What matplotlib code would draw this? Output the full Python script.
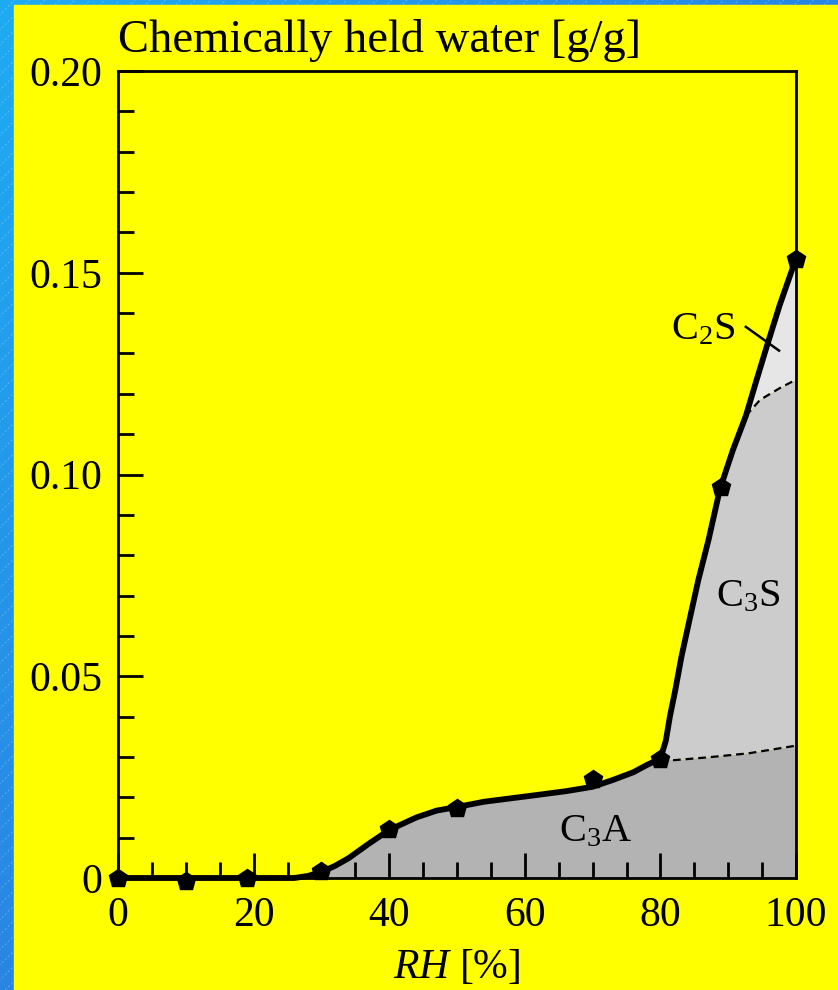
import numpy as np
import matplotlib.pyplot as plt
from matplotlib.ticker import MultipleLocator
from matplotlib.patches import Rectangle

plt.rcParams['font.family'] = 'Liberation Serif'
plt.rcParams['mathtext.fontset'] = 'custom'
plt.rcParams['mathtext.rm'] = 'Liberation Serif'
plt.rcParams['mathtext.it'] = 'Liberation Serif:italic'

# measured points (RH %, chemically held water g/g)
rh_pts = [0, 10, 19, 30, 40, 50, 70, 80, 89, 100]
w_pts = [0.0, -0.0008, 0.0, 0.0017, 0.0122, 0.0173, 0.0246, 0.0296, 0.0970, 0.1535]

# smooth total curve drawn through the points
curve_rh = np.array([0, 26, 28, 30, 32, 34, 37, 40, 44, 47, 50, 54, 61, 66, 70, 73, 76, 78,
                     80, 80.8, 81.4, 82.2, 83.1, 84.4, 85.6, 87.1, 88.8, 90.7, 92.6, 94.2,
                     95.7, 97.6, 100])
curve_w = np.array([0, 0, 0.0005, 0.0015, 0.003, 0.0049, 0.0085, 0.0119, 0.015, 0.0167,
                    0.0176, 0.0189, 0.0204, 0.0215, 0.0226, 0.0243, 0.0262, 0.0280,
                    0.0296, 0.0340, 0.0400, 0.0466, 0.0548, 0.0648, 0.0739, 0.0838,
                    0.0965, 0.1061, 0.1145, 0.1235, 0.1318, 0.1420, 0.1535])

# boundary C3A / C3S
low_rh = np.array([80, 82, 87, 93, 100])
low_w = np.array([0.0296, 0.0292, 0.0299, 0.0309, 0.0328])
# boundary C3S / C2S
up_rh = np.array([92.6, 94.7, 97.6, 100])
up_w = np.array([0.1145, 0.1185, 0.1214, 0.1235])

x_ticks = [0, 20, 40, 60, 80, 100]
y_ticks = [0, 0.05, 0.10, 0.15, 0.20]
y_ticklabels = ['0', '0.05', '0.10', '0.15', '0.20']

phase_names = [r'C$_3$A', r'C$_3$S', r'C$_2$S']
phase_pos = [(70.4, 0.0115), (93.0, 0.0697), (86.3, 0.1358)]
phase_colors = ['#b3b3b3', '#cccccc', '#e6e6e6']

fig = plt.figure(figsize=(8.38, 9.9), dpi=100)

# blue slide background with yellow panel
bg = fig.add_axes([0, 0, 1, 1])
bg.set_axis_off()
u, v = np.meshgrid(np.linspace(0, 1, 60), np.linspace(0, 1, 60))
t = (u + v) / 2
c0 = np.array([0.12, 0.67, 0.95])
c1 = np.array([0.20, 0.38, 0.83])
grad = c0[None, None, :] * (1 - t[..., None]) + c1[None, None, :] * t[..., None]
bg.imshow(grad, extent=[0, 1, 0, 1], aspect='auto', zorder=0)
for off in np.arange(-1.2, 1.0, 0.018):
    bg.plot([off, off + 1.2], [0, 1.2 * 838 / 990], color='white', lw=0.5,
            alpha=0.35, ls=(0, (3, 3)), zorder=1)
bg.add_patch(Rectangle((14 / 838, 0), 1, 985 / 990, color='#ffff00', zorder=2))
bg.set_xlim(0, 1)
bg.set_ylim(0, 1)

ax = fig.add_axes([118 / 838, 1 - 878 / 990, 678 / 838, 807 / 990])
ax.set_facecolor('#ffff00')

# C3A area
m = curve_rh <= 80
ax.fill(np.concatenate([curve_rh[m], low_rh[1:], [100, 0]]),
        np.concatenate([curve_w[m], low_w[1:], [0, 0]]), color=phase_colors[0], lw=0)
# C3S area
m = (curve_rh >= 80) & (curve_rh <= 92.6)
ax.fill(np.concatenate([low_rh, up_rh[::-1], curve_rh[m][::-1]]),
        np.concatenate([low_w, up_w[::-1], curve_w[m][::-1]]), color=phase_colors[1], lw=0)
# C2S area
m = curve_rh >= 92.6
ax.fill(np.concatenate([up_rh, curve_rh[m][::-1]]),
        np.concatenate([up_w, curve_w[m][::-1]]), color=phase_colors[2], lw=0)

ax.plot(low_rh, low_w, color='black', lw=1.6, dashes=(3.5, 2.2), zorder=3)
ax.plot(up_rh, up_w, color='black', lw=1.6, dashes=(3.5, 2.2), zorder=3)

ax.plot(curve_rh, curve_w, color='black', lw=4.2, solid_joinstyle='round',
        solid_capstyle='round', zorder=4, clip_on=False)
ax.plot(rh_pts, w_pts, 'kp', ms=13.5, zorder=5, clip_on=False)

for name, (px, py) in zip(phase_names, phase_pos):
    ax.text(px, py, name, ha='center', va='center', fontsize=29)
ax.plot([92.6, 97.5], [0.1366, 0.1307], color='black', lw=1.8, zorder=4)

ax.set_xlim(0, 100)
ax.set_ylim(0, 0.2)
ax.set_xticks(x_ticks)
ax.set_yticks(y_ticks)
ax.set_yticklabels(y_ticklabels)
ax.xaxis.set_minor_locator(MultipleLocator(5))
ax.yaxis.set_minor_locator(MultipleLocator(0.01))
ax.tick_params(which='both', direction='in', width=2, labelsize=30, top=False, right=False)
ax.tick_params(which='major', length=18)
ax.tick_params(which='minor', length=11.5)
ax.tick_params(axis='x', pad=13)
ax.tick_params(axis='y', pad=11)
for s in ax.spines.values():
    s.set_linewidth(2)

ax.set_xlabel(r'$RH$ [%]', fontsize=30, labelpad=10)
fig.text(118 / 838, 1 - 52 / 990, 'Chemically held water [g/g]', fontsize=33.5,
         ha='left', va='baseline')

fig.savefig('out.png', dpi=100)
